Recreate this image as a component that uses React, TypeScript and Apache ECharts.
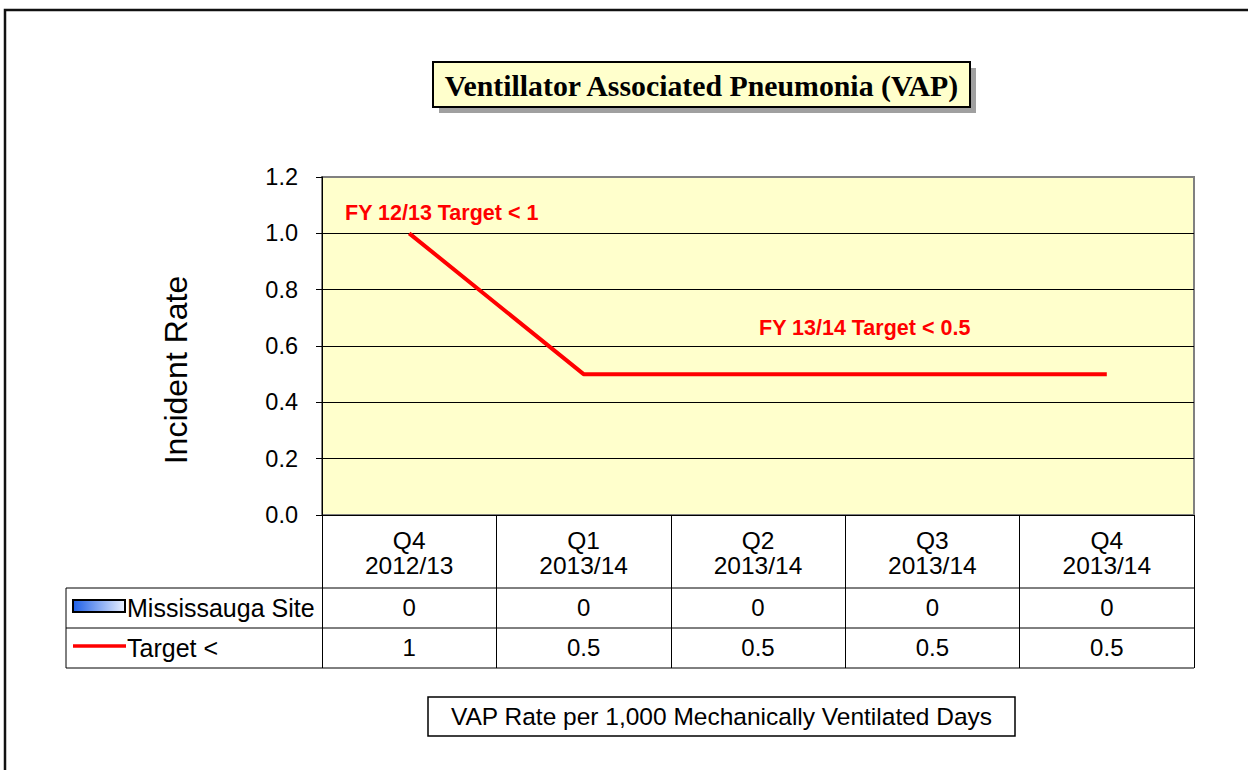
import React, { useEffect, useRef } from "react";
import * as echarts from "echarts";

const quarters = ["Q4", "Q1", "Q2", "Q3", "Q4"];
const fiscalYears = ["2012/13", "2013/14", "2013/14", "2013/14", "2013/14"];
const siteValues = [0, 0, 0, 0, 0];
const targetValues = [1, 0.5, 0.5, 0.5, 0.5];
const seriesNames = ["Mississauga Site", "Target <"];
const annotationTexts = ["FY 12/13 Target < 1", "FY 13/14 Target < 0.5"];
const titleText = "Ventillator Associated Pneumonia (VAP)";
const footnoteText = "VAP Rate per 1,000 Mechanically Ventilated Days";
const yAxisTitle = "Incident Rate";

const SANS = "'Liberation Sans', Arial, Helvetica, sans-serif";
const SERIF = "'Liberation Serif', 'Times New Roman', serif";

const GRID = { left: 322, right: 1194, top: 177, bottom: 515 };
const ROW1 = 588;
const ROW2 = 628;
const ROW3 = 668;
const TABLE_LEFT = 66;

export default function App() {
  const ref = useRef<HTMLDivElement>(null);

  useEffect(() => {
    document.body.style.margin = "0";
    const chart = echarts.init(ref.current!, undefined, { renderer: "svg" });
    const categories = quarters.map((q, i) => `${q}\n${fiscalYears[i]}`);

    chart.setOption({
      animation: false,
      backgroundColor: "#ffffff",
      grid: {
        left: GRID.left,
        right: 1248 - GRID.right,
        top: GRID.top,
        bottom: 770 - GRID.bottom,
        show: true,
        backgroundColor: "#FFFFCC",
        borderColor: "#808080",
        borderWidth: 2,
        z: 0,
      },
      xAxis: {
        type: "category",
        data: categories,
        boundaryGap: true,
        axisLine: { lineStyle: { color: "#000", width: 1 } },
        axisTick: {
          show: true,
          interval: 0,
          length: ROW3 - GRID.bottom,
          lineStyle: { color: "#000", width: 1 },
        },
        axisLabel: {
          interval: 0,
          color: "#000",
          fontFamily: SANS,
          fontSize: 24.5,
          lineHeight: 25,
          margin: 13,
        },
        splitLine: { show: false },
      },
      yAxis: {
        type: "value",
        min: 0,
        max: 1.2,
        interval: 0.2,
        axisLine: { show: true, lineStyle: { color: "#000", width: 1 } },
        axisTick: { show: true, length: 6, lineStyle: { color: "#000" } },
        axisLabel: {
          color: "#000",
          fontFamily: SANS,
          fontSize: 23.5,
          margin: 24,
          formatter: (v: number) => v.toFixed(1),
        },
        splitLine: {
          show: true,
          lineStyle: {
            color: ["#000", "#000", "#000", "#000", "#000", "#000", "#808080"],
            width: 1,
          },
        },
      },
      series: [
        {
          name: seriesNames[0],
          type: "bar",
          data: siteValues,
          barWidth: "50%",
          itemStyle: { color: "#3070E0" },
        },
        {
          name: seriesNames[1],
          type: "line",
          data: targetValues,
          showSymbol: false,
          symbol: "none",
          lineStyle: { color: "#FF0000", width: 4 },
          z: 5,
        },
      ],
    });

    const xs = quarters.map((_, i) =>
      chart.convertToPixel({ xAxisIndex: 0 }, i) as number
    );

    const graphics: any[] = [];
    graphics.push({
      type: "rect",
      shape: { x: 5, y: 10, width: 1400, height: 900 },
      style: { fill: "none", stroke: "#111", lineWidth: 2.5 },
      z: 100,
    });
    graphics.push({
      type: "rect",
      shape: { x: 439, y: 68, width: 537, height: 45 },
      style: { fill: "#A0A0A0" },
      z: 100,
    });
    graphics.push({
      type: "rect",
      shape: { x: 433, y: 62, width: 537, height: 45 },
      style: { fill: "#FFFFCC", stroke: "#000", lineWidth: 2 },
      z: 101,
    });
    graphics.push({
      type: "text",
      x: 701.5,
      y: 85,
      z: 102,
      style: {
        text: titleText,
        fill: "#000",
        fontFamily: SERIF,
        fontWeight: "bold",
        fontSize: 29.8,
        align: "center",
        verticalAlign: "middle",
      },
    });
    graphics.push({
      type: "text",
      x: 176,
      y: 370,
      rotation: Math.PI / 2,
      z: 100,
      style: {
        text: yAxisTitle,
        fill: "#000",
        fontFamily: SANS,
        fontSize: 32,
        align: "center",
        verticalAlign: "middle",
      },
    });
    graphics.push({
      type: "text",
      x: 345,
      y: 213,
      z: 100,
      style: {
        text: annotationTexts[0],
        fill: "#FF0000",
        fontFamily: SANS,
        fontWeight: "bold",
        fontSize: 21.5,
        align: "left",
        verticalAlign: "middle",
      },
    });
    graphics.push({
      type: "text",
      x: 759,
      y: 328,
      z: 100,
      style: {
        text: annotationTexts[1],
        fill: "#FF0000",
        fontFamily: SANS,
        fontWeight: "bold",
        fontSize: 21.5,
        align: "left",
        verticalAlign: "middle",
      },
    });
    [ROW1, ROW2, ROW3].forEach((y) => {
      graphics.push({
        type: "line",
        shape: { x1: TABLE_LEFT, y1: y, x2: GRID.right, y2: y },
        style: { stroke: "#000", lineWidth: 1 },
        z: 100,
      });
    });
    graphics.push({
      type: "line",
      shape: { x1: TABLE_LEFT, y1: ROW1, x2: TABLE_LEFT, y2: ROW3 },
      style: { stroke: "#000", lineWidth: 1 },
      z: 100,
    });
    graphics.push({
      type: "rect",
      shape: { x: 73, y: 600, width: 52, height: 12 },
      style: {
        fill: new echarts.graphic.LinearGradient(0, 0, 1, 0, [
          { offset: 0, color: "#1E5FE6" },
          { offset: 1, color: "#EAF1FF" },
        ]),
        stroke: "#000",
        lineWidth: 2,
      },
      z: 100,
    });
    graphics.push({
      type: "line",
      shape: { x1: 73, y1: 646, x2: 126, y2: 646 },
      style: { stroke: "#FF0000", lineWidth: 3.5 },
      z: 100,
    });
    const rowCenters = [(ROW1 + ROW2) / 2, (ROW2 + ROW3) / 2];
    seriesNames.forEach((name, r) => {
      graphics.push({
        type: "text",
        x: 127,
        y: rowCenters[r],
        z: 100,
        style: {
          text: name,
          fill: "#000",
          fontFamily: SANS,
          fontSize: 25,
          align: "left",
          verticalAlign: "middle",
        },
      });
    });
    [siteValues, targetValues].forEach((vals, r) => {
      vals.forEach((v, i) => {
        graphics.push({
          type: "text",
          x: xs[i],
          y: rowCenters[r] - 0.5,
          z: 100,
          style: {
            text: String(v),
            fill: "#000",
            fontFamily: SANS,
            fontSize: 24,
            align: "center",
            verticalAlign: "middle",
          },
        });
      });
    });
    graphics.push({
      type: "rect",
      shape: { x: 428, y: 697, width: 587, height: 39 },
      style: { fill: "#fff", stroke: "#000", lineWidth: 1.5 },
      z: 100,
    });
    graphics.push({
      type: "text",
      x: 721.5,
      y: 716.5,
      z: 101,
      style: {
        text: footnoteText,
        fill: "#000",
        fontFamily: SANS,
        fontSize: 24.5,
        align: "center",
        verticalAlign: "middle",
      },
    });

    chart.setOption({ graphic: graphics });

    return () => chart.dispose();
  }, []);

  return (
    <div
      ref={ref}
      style={{ position: "absolute", left: 0, top: 0, width: 1248, height: 770 }}
    />
  );
}
